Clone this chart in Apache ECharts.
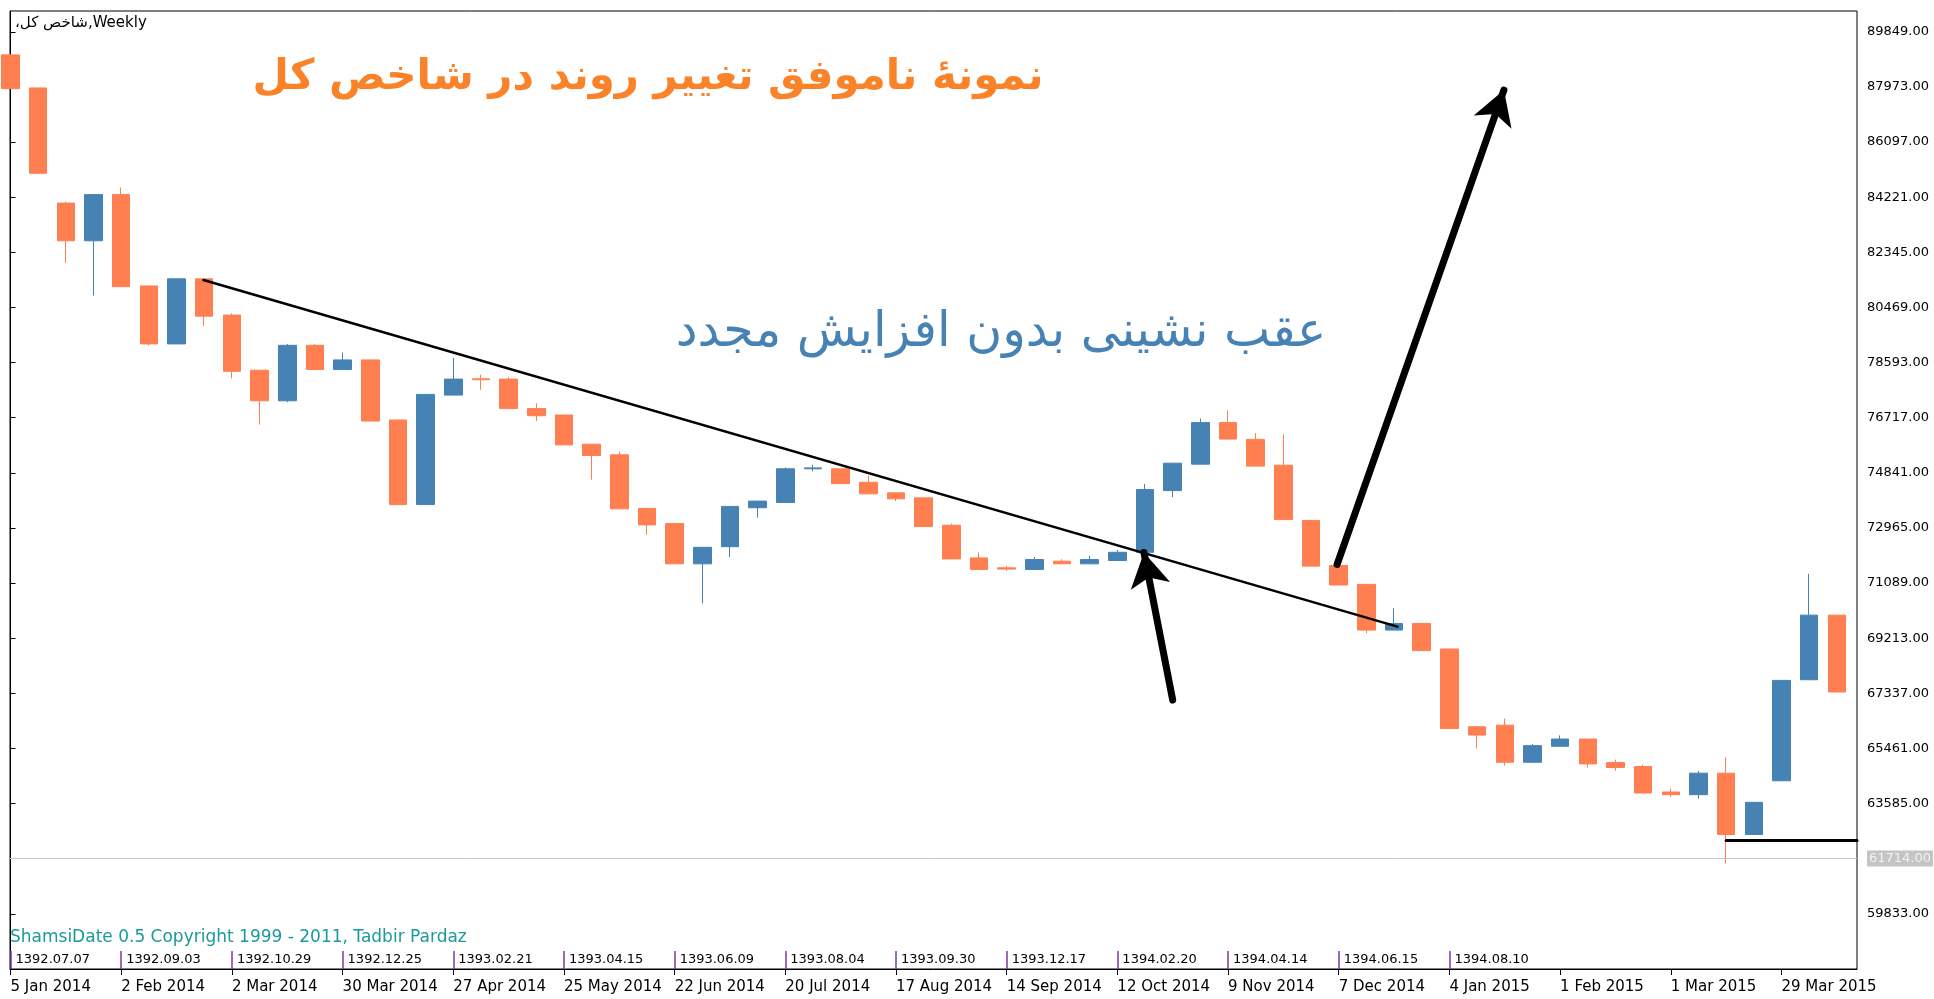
<!DOCTYPE html>
<html><head><meta charset="utf-8">
<script src="https://cdn.jsdelivr.net/npm/echarts@6/dist/echarts.min.js"></script>
<style>html,body{margin:0;padding:0;background:#fff}#c{width:1934px;height:999px}</style>
</head><body><div id="c"></div>
<script>
// Weekly candles (index 0 = week of 5 Jan 2014)
const opens  = [89065,87940,84020,82738,84310,81201,79229,81443,80209,78334,77293,79181,78358,78685,76640,73761,77487,78040,78031,77027,76809,75817,75455,73632,73115,71745,72329,73654,73834,74979,74979,74519,74160,73991,73059,71947,71610,71554,71835,71745,71858,72138,74238,75137,76551,75980,75100,73222,71689,71047,69491,69717,68848,66200,66256,64993,65535,65782,64982,64847,63979,63889,64621,62536,64362,67800,69999];
const closes = [87915,85036,82738,84310,81177,79229,81443,80173,78298,77293,79181,78358,78685,76604,73761,77511,78031,78010,77027,76785,75793,75430,73616,73070,71745,72306,73699,73879,74979,75010,74474,74126,73957,73014,71913,71554,71565,71891,71745,71891,72138,74272,75170,76551,75990,75070,73250,71667,71024,69491,69717,68792,66143,65917,64993,65557,65782,64937,64813,63945,63889,64621,62536,63629,67778,69999,67383];
const lows   = [87915,85036,81987,80874,81177,79180,79229,79834,78056,76483,77245,78358,78358,76604,73761,73761,77487,77668,77027,76604,75793,74608,73616,72733,71745,70397,71970,73317,73834,74889,74474,74126,73879,73014,71913,71554,71498,71554,71745,71745,71858,72138,74013,75137,75990,75070,73250,71667,71024,69378,69491,68792,66143,65467,64880,64993,65535,64813,64700,63945,63810,63753,61544,62536,64362,67800,67383];
const highs  = [89065,87940,84070,84310,84552,81201,81443,81443,80270,78334,79229,79229,78939,78685,76640,77511,78757,78177,78100,77209,76809,75817,75575,73632,73115,72306,73699,73879,75024,75114,74979,74743,74160,73991,73115,72138,71677,71970,71902,72015,72217,74463,75170,76686,76967,76200,76150,73222,71689,71047,70235,69717,68848,66200,66481,65613,65906,65782,65083,64914,64092,64700,65162,63629,67778,71407,69999];

const dateTickIdx = [0,4,8,12,16,20,24,28,32,36,40,44,48,52,56,60,64];
const dateLabels = ['5 Jan 2014','2 Feb 2014','2 Mar 2014','30 Mar 2014','27 Apr 2014','25 May 2014','22 Jun 2014','20 Jul 2014','17 Aug 2014','14 Sep 2014','12 Oct 2014','9 Nov 2014','7 Dec 2014','4 Jan 2015','1 Feb 2015','1 Mar 2015','29 Mar 2015'];
const shamsiTickIdx = [0,4,8,12,16,20,24,28,32,36,40,44,48,52];
const shamsiLabels = ['1392.07.07','1392.09.03','1392.10.29','1392.12.25','1393.02.21','1393.04.15','1393.06.09','1393.08.04','1393.09.30','1393.12.17','1394.02.20','1394.04.14','1394.06.15','1394.08.10'];
const priceTicks = [59833,61714,63585,65461,67337,69213,71089,72965,74841,76717,78593,80469,82345,84221,86097,87973,89849];
const currentPrice = 61714;

// annotations: [index, price]
const trendLine = [[6.97, 81404], [50.12, 69609]];
const arrowUp1 = [[42.0, 67111], [40.96, 72130]];
const arrowUp2 = [[47.94, 71722], [53.97, 87869]];
const supportLine = [[62.0, 62344], [66.73, 62344]];

const titleText = 'نمونهٔ ناموفق تغییر روند در شاخص کل';
const noteText = 'عقب نشینی بدون افزایش مجدد';
const symbolText = 'شاخص کل،\u200F,Weekly';
const copyrightText = 'ShamsiDate 0.5 Copyright 1999 - 2011, Tadbir Pardaz';

const UP = '#4682B4', DOWN = '#FF7F50';
const chart = echarts.init(document.getElementById('c'), null, {renderer: 'canvas'});
const candles = opens.map((o, i) => [i, o, closes[i], lows[i], highs[i]]);
function lineSeries(a, w, sym, size) {
  return {type: 'line', data: [], silent: true, animation: false,
    markLine: {silent: true, animation: false, label: {show: false}, emphasis: {disabled: true},
      symbol: sym || ['none', 'none'], symbolSize: size || 0,
      lineStyle: {color: '#000', width: w, type: 'solid', cap: 'round'},
      data: [[{coord: a[0]}, {coord: a[1]}]]}};
}
const option = {
  animation: false,
  backgroundColor: '#fff',
  grid: {left: 10, right: 77, top: 11, bottom: 30, show: true, borderColor: '#000', borderWidth: 1,
         containLabel: false, outerBoundsMode: 'none'},
  xAxis: [{
    type: 'value', min: -0.02, max: 66.73, position: 'bottom',
    axisLine: {show: true, onZero: false, lineStyle: {color: '#000', width: 1}},
    axisTick: {show: true, customValues: dateTickIdx, length: 6, lineStyle: {color: '#000'}},
    axisLabel: {show: true, customValues: dateTickIdx, align: 'left', margin: 11, hideOverlap: false,
      formatter: v => dateLabels[dateTickIdx.indexOf(Math.round(v))] || '',
      fontFamily: 'DejaVu Sans', fontSize: 15, color: '#000'},
    splitLine: {show: false}
  }, {
    type: 'value', min: -0.02, max: 66.73, position: 'bottom',
    axisLine: {show: false},
    axisTick: {show: true, inside: true, customValues: shamsiTickIdx, length: 18, lineStyle: {color: '#7a3aa8', width: 1.5}},
    axisLabel: {show: true, inside: true, customValues: shamsiTickIdx, align: 'left', margin: 3, padding: [0, 0, 0, 5],
      formatter: v => shamsiLabels[shamsiTickIdx.indexOf(Math.round(v))] || '',
      fontFamily: 'DejaVu Sans', fontSize: 13, color: '#000'},
    splitLine: {show: false}
  }],
  yAxis: {
    type: 'value', position: 'right', min: 57957, max: 90558, scale: true,
    axisLine: {show: true, lineStyle: {color: '#000', width: 1}},
    axisTick: {show: true, customValues: priceTicks, length: 5, lineStyle: {color: '#000'}},
    axisLabel: {show: true, customValues: priceTicks, margin: 10, hideOverlap: false,
      formatter: v => v === currentPrice ? '{cur|' + v.toFixed(2) + '}' : v.toFixed(2),
      fontFamily: 'DejaVu Sans', fontSize: 13, color: '#000',
      rich: {cur: {backgroundColor: '#c4c4c4', color: '#f2f2f2', fontFamily: 'DejaVu Sans', fontSize: 13, padding: [2, 2, 1, 2]}}},
    splitLine: {show: false}
  },
  series: [
    {type: 'candlestick', data: candles, barWidth: 18, clip: true, silent: true,
     itemStyle: {color: UP, color0: DOWN, borderColor: UP, borderColor0: DOWN, borderWidth: 1},
     markLine: {silent: true, animation: false, symbol: ['none', 'none'], label: {show: false},
       lineStyle: {color: '#c4c4c4', width: 1, type: 'solid'}, data: [{yAxis: currentPrice}]}},
    lineSeries(trendLine, 2.5),
    lineSeries(supportLine, 3),
    lineSeries(arrowUp1, 7, ['none', 'arrow'], [30, 34]),
    lineSeries(arrowUp2, 7, ['none', 'arrow'], [30, 34])
  ],
  graphic: [
    {type: 'text', x: 15, y: 16, silent: true, style: {text: symbolText, font: '15px "DejaVu Sans"', fill: '#000'}},
    {type: 'text', x: 648, y: 78, silent: true, style: {text: titleText, font: 'bold 42px "DejaVu Sans"', fill: '#FA8228', align: 'center', verticalAlign: 'middle'}},
    {type: 'text', x: 1001, y: 333, silent: true, style: {text: noteText, font: '49px "DejaVu Sans"', fill: '#4682B4', align: 'center', verticalAlign: 'middle'}},
    {type: 'text', x: 10, y: 929, silent: true, style: {text: copyrightText, font: '17px "DejaVu Sans"', fill: '#1a9a9a'}}
  ]
};
chart.setOption(option);
</script></body></html>
